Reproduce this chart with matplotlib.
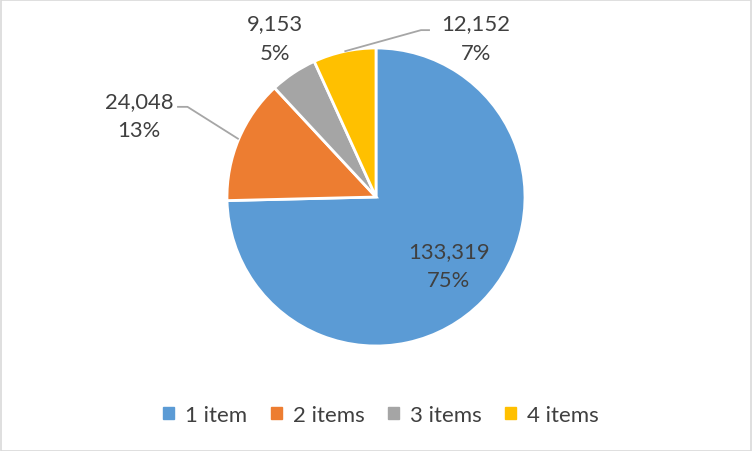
import numpy as np
import matplotlib
matplotlib.use("Agg")
import matplotlib.pyplot as plt
from matplotlib.patches import Rectangle

categories = ["1 item", "2 items", "3 items", "4 items"]
values = [133319, 24048, 9153, 12152]
colors = ["#5B9BD5", "#ED7D31", "#A5A5A5", "#FFC000"]

plt.rcParams['font.family'] = ['Lato', 'DejaVu Sans']
TXT = "#404040"

W, H = 752, 452
fig = plt.figure(figsize=(W / 100, H / 100), dpi=100)
cx, cy, R = 376, 198, 149
ax = fig.add_axes([(cx - R) / W, (H - cy - R) / H, 2 * R / W, 2 * R / H])
ax.axis("off")

wedges, _ = ax.pie(values, colors=colors, startangle=90, counterclock=False,
                   radius=1, center=(0, 0),
                   wedgeprops=dict(edgecolor="white", linewidth=2))
ax.set_xlim(-1, 1)
ax.set_ylim(-1, 1)

total = sum(values)
pcts = [round(v / total * 100) for v in values]
labels = [f"{v:,}\n{p}%" for v, p in zip(values, pcts)]

# label positions (data units, radius = 1)
label_pos = [(0.487, -0.46), (-1.59, 0.547), (-0.68, 1.065), (0.67, 1.065)]
# leader elbow points (None = no leader)
elbows = [None, [(-1.265, 0.605), (-1.335, 0.605)], None, [(0.302, 1.12), (0.362, 1.12)]]

for w, lab, pos, elb in zip(wedges, labels, label_pos, elbows):
    ang = np.deg2rad((w.theta1 + w.theta2) / 2)
    ax.text(pos[0], pos[1], lab, ha="center", va="center", fontsize=15.8,
            color=TXT, linespacing=1.6, clip_on=False)
    if elb is not None:
        xs = [np.cos(ang)] + [p[0] for p in elb]
        ys = [np.sin(ang)] + [p[1] for p in elb]
        ax.plot(xs, ys, color="#A6A6A6", lw=1.3, clip_on=False, solid_capstyle="butt")

handles = [plt.Rectangle((0, 0), 1, 1, color=c) for c in colors]
fig.legend(handles, categories, loc="center", bbox_to_anchor=(381 / W, 1 - 416 / H),
           ncol=4, frameon=False, fontsize=16, labelcolor=TXT,
           handlelength=0.5, handleheight=0.5, handletextpad=0.5,
           columnspacing=1.05)

fig.patches.append(Rectangle((0.5 / W, 0.5 / H), 1 - 1.5 / W, 1 - 1.5 / H,
                             transform=fig.transFigure, fill=False,
                             edgecolor="#D9D9D9", lw=1.2))
fig.savefig("out.png", dpi=100, facecolor="white")
